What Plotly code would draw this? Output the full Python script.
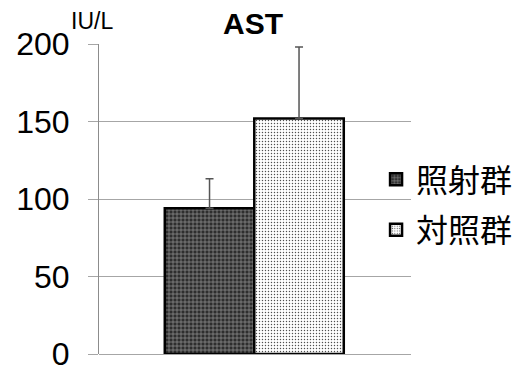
import plotly.graph_objects as go

# AST levels by group (IU/L): mean and upper error
groups = ["照射群", "対照群"]
means = [94, 152]
err_upper = [19, 46]
positions = [0, 1]

# fill styles for each group
fills = [
    dict(bg="#2e2e2e", fg="#9a9a9a", shape="+", size=4, solidity=0.3),
    dict(bg="#ffffff", fg="#505050", shape=".", size=3, solidity=0.18),
]

fig = go.Figure()
for name, m, e, p, f in zip(groups, means, err_upper, positions, fills):
    fig.add_trace(go.Bar(
        x=[p], y=[m], name=name, width=1,
        marker=dict(
            color=f["bg"],
            line=dict(color="black", width=2.5),
            pattern=dict(shape=f["shape"], bgcolor=f["bg"], fgcolor=f["fg"],
                         size=f["size"], solidity=f["solidity"], fillmode="replace"),
        ),
        error_y=dict(type="data", symmetric=False, array=[e], arrayminus=[0],
                     color="#555555", thickness=1.5, width=4),
    ))

fig.update_layout(
    width=522, height=367,
    margin=dict(l=99, r=111, t=44, b=13, autoexpand=False),
    paper_bgcolor="white", plot_bgcolor="white",
    barmode="overlay",
    font=dict(family="Liberation Sans, Arial, sans-serif", color="black"),
    title=dict(text="<b>AST</b>", x=253 / 522, xanchor="center",
               y=1 - 23 / 367, yanchor="middle", yref="container",
               font=dict(size=30, family="Liberation Sans, Arial, sans-serif")),
    showlegend=True,
    legend=dict(x=0.888, xanchor="left", y=0.652, yanchor="top",
                font=dict(size=32, family="Noto Sans CJK JP"),
                tracegroupgap=6, traceorder="grouped",
                bgcolor="rgba(0,0,0,0)"),
    xaxis=dict(range=[-1.235, 2.251], showticklabels=False, showgrid=False,
               zeroline=False, showline=False, ticks="", automargin=False),
    yaxis=dict(range=[0, 200], tickvals=[0, 50, 100, 150, 200],
               showgrid=True, gridcolor="#a6a6a6", gridwidth=1,
               zeroline=True, zerolinecolor="#a6a6a6", zerolinewidth=1,
               showline=True, linecolor="#8c8c8c", linewidth=1,
               ticks="outside", ticklen=10, tickcolor="#a6a6a6",
               ticklabelstandoff=12, ticklabeloverflow="allow", automargin=False,
               tickfont=dict(size=32, family="Liberation Sans, Arial, sans-serif")),
    annotations=[dict(text="IU/L", xref="paper", yref="paper",
                      x=(69 - 99) / 312, y=(354 - 21) / 310,
                      xanchor="left", yanchor="middle", showarrow=False,
                      font=dict(size=23, family="Liberation Sans, Arial, sans-serif"))],
)

# one legend group per trace so the gap applies between entries
for i, tr in enumerate(fig.data):
    tr.legendgroup = f"g{i}"

fig.write_html("out.html")
